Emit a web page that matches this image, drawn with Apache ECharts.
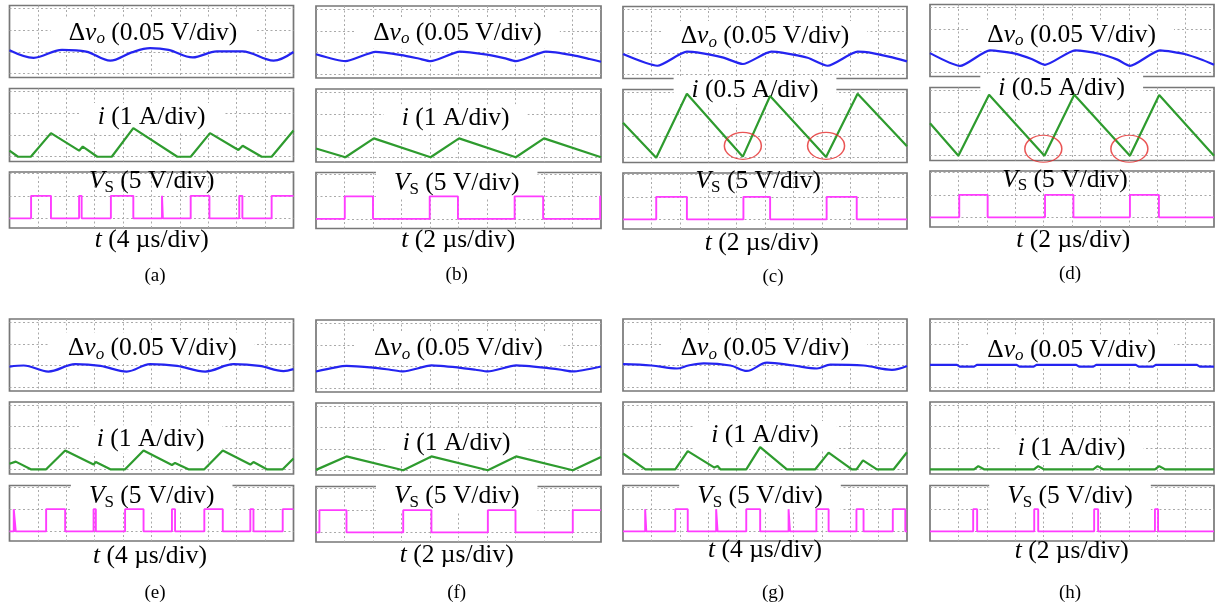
<!DOCTYPE html>
<html><head><meta charset="utf-8">
<script src="https://cdn.jsdelivr.net/npm/echarts@6/dist/echarts.min.js"></script>
<style>html,body{margin:0;padding:0;background:#fff}#c{width:1222px;height:610px}</style>
</head><body><div id="c"></div>
<script>
// ===== DATA (time in divisions 0-10, amplitude in divisions) =====
const panelTags = ['(a)','(b)','(c)','(d)','(e)','(f)','(g)','(h)'];
const voScale = '0.05 V/div';
const vsScale = '5 V/div';
const iScales = ['1 A/div','1 A/div','0.5 A/div','0.5 A/div','1 A/div','1 A/div','1 A/div','1 A/div'];
const tScales = ['4 µs/div','2 µs/div','2 µs/div','2 µs/div','4 µs/div','2 µs/div','4 µs/div','2 µs/div'];

// output-voltage ripple Δvo (blue)
const voT_a = [0, 0.85, 1.85, 2.7, 3.55, 4.3, 4.95, 5.6, 6.45, 7.3, 8.2, 9.3, 10];
const vo_a  = [1.08, 0.73, 1.1, 1.02, 0.6, 0.98, 1.18, 1.1, 0.75, 1.03, 1.03, 0.6, 1.0];
const voT_b = [0, 1.03, 2.09, 3.0, 3.6, 4.02, 5.05, 6.0, 6.6, 7.01, 8.07, 9.0, 9.6, 10];
const vo_b  = [0.92, 0.6, 1.03, 0.88, 0.72, 0.6, 1.04, 0.9, 0.74, 0.6, 1.04, 0.88, 0.7, 0.57];
const voT_c = [0, 1.21, 2.25, 2.6, 3.5, 4.22, 5.22, 5.6, 6.5, 7.21, 8.26, 8.65, 9.4, 10];
const vo_c  = [0.95, 0.41, 1.06, 1.03, 0.8, 0.49, 1.06, 1.02, 0.78, 0.41, 1.06, 1.03, 0.82, 0.61];
const voT_d = [0, 1.06, 2.11, 3.0, 3.6, 4.05, 5.11, 6.0, 6.6, 7.04, 8.1, 9.0, 9.6, 10];
const vo_d  = [0.9, 0.31, 1.03, 0.88, 0.62, 0.36, 1.03, 0.86, 0.6, 0.31, 1.03, 0.85, 0.58, 0.36];
const voT_e = [0, 0.5, 1.37, 2.31, 3.2, 4.13, 4.95, 5.9, 6.89, 7.89, 8.8, 9.65, 10];
const vo_e  = [0.95, 1.0, 0.72, 1.06, 0.98, 0.72, 1.06, 0.98, 0.72, 1.06, 0.98, 0.74, 0.83];
const voT_f = [0, 1.07, 2.0, 2.6, 3.06, 4.05, 5.0, 5.6, 6.03, 7.02, 8.0, 8.6, 9.01, 10];
const vo_f  = [0.77, 1.03, 0.95, 0.85, 0.77, 1.05, 0.95, 0.85, 0.77, 1.05, 0.95, 0.85, 0.77, 1.0];
const voT_g = [0, 1.0, 1.9, 2.3, 2.84, 3.78, 4.36, 5.07, 6.0, 6.83, 7.3, 8.47, 9.47, 10];
const vo_g  = [1.06, 1.0, 0.86, 1.0, 1.1, 1.0, 0.75, 1.13, 1.0, 0.86, 1.04, 1.0, 0.8, 0.98];
const voT_h = [0, 0.95, 1.05, 1.55, 1.65, 3.05, 3.15, 3.65, 3.75, 5.15, 5.25, 5.75, 5.85, 7.25, 7.35, 7.85, 7.95, 9.4, 9.5, 10];
const vo_h  = [1.03, 1.03, 0.95, 0.95, 1.03, 1.03, 0.95, 0.95, 1.03, 1.03, 0.95, 0.95, 1.03, 1.03, 0.95, 0.95, 1.03, 1.03, 0.95, 0.95];

// inductor current i (green)
const iT_a = [0, 0.3, 0.75, 1.46, 2.45, 2.58, 3.09, 3.6, 4.36, 5.91, 6.38, 7.06, 8.06, 8.21, 8.88, 9.23, 10];
const i_a  = [0.28, 0, 0, 1.09, 0.28, 0.47, 0, 0, 1.32, 0, 0, 1.09, 0.31, 0.51, 0, 0, 1.21];
const iT_b = [0, 1.03, 2.03, 4.02, 5.02, 7.01, 8.0, 10];
const i_b  = [0.4, 0, 0.87, 0, 0.87, 0, 0.87, 0];
const iT_c = [0, 1.17, 2.25, 4.22, 5.18, 7.15, 8.26, 10];
const i_c  = [1.62, 0, 2.95, 0.05, 2.85, 0.03, 2.95, 0.53];
const iT_d = [0, 1.0, 2.08, 4.03, 5.08, 7.04, 8.07, 10];
const i_d  = [1.5, 0, 2.82, 0, 2.82, 0, 2.8, 0];
const iT_e = [0, 0.22, 0.75, 1.29, 1.96, 2.96, 3.04, 3.55, 4.07, 4.72, 5.72, 5.83, 6.3, 6.86, 7.51, 8.48, 8.59, 9.06, 9.62, 10];
const i_e  = [0.26, 0.36, 0, 0, 0.88, 0.22, 0.34, 0, 0, 0.88, 0.2, 0.3, 0, 0, 0.88, 0.22, 0.34, 0, 0, 0.51];
const iT_f = [0, 1.07, 3.06, 4.05, 6.03, 7.02, 9.01, 10];
const i_f  = [0.02, 0.65, 0, 0.65, 0, 0.65, 0, 0.62];
const iT_g = [0, 0.79, 1.84, 2.28, 3.22, 3.33, 3.43, 4.34, 4.83, 5.77, 6.77, 7.24, 8.06, 8.22, 8.45, 8.94, 9.53, 10];
const i_g  = [0.74, 0, 0, 0.85, 0.08, 0.15, 0, 0, 1.04, 0, 0, 0.78, 0, 0, 0.42, 0, 0, 0.8];
const iT_h = [0, 1.55, 1.7, 1.9, 3.66, 3.81, 4.01, 5.75, 5.9, 6.1, 7.92, 8.07, 8.27, 10];
const i_h  = [0, 0, 0.15, 0, 0, 0.15, 0, 0, 0.15, 0, 0, 0.15, 0, 0];

// switch voltage VS (magenta), level changes
const vsT_a = [0, 0.76, 1.46, 2.45, 2.54, 3.57, 4.36, 5.37, 5.4, 6.38, 7.04, 8.09, 8.2, 9.23, 10];
const vs_a  = [0, 1, 0, 1, 0, 1, 0, 1, 0, 1, 0, 1, 0, 1, 1];
const vsT_b = [0, 1.01, 2.0, 3.99, 4.98, 6.97, 7.97, 9.97, 10];
const vs_b  = [0, 1, 0, 1, 0, 1, 0, 1, 1];
const vsT_c = [0, 1.17, 2.25, 4.24, 5.18, 7.17, 8.23, 10];
const vs_c  = [0, 1, 0, 1, 0, 1, 0, 0];
const vsT_d = [0, 1.03, 2.03, 4.05, 5.05, 7.04, 8.06, 10];
const vs_d  = [0, 1, 0, 1, 0, 1, 0, 0];
const vsT_e = [0, 0.15, 0.22, 1.29, 1.96, 2.96, 3.04, 4.07, 4.72, 5.72, 5.83, 6.86, 7.51, 8.48, 8.59, 9.62, 10];
const vs_e  = [0, 1, 0, 1, 0, 1, 0, 1, 0, 1, 0, 1, 0, 1, 0, 1, 1];
const vsT_f = [0, 0.12, 1.07, 3.06, 4.05, 6.03, 7.0, 9.01, 10];
const vs_f  = [0, 1, 0, 1, 0, 1, 0, 1, 1];
const vsT_g = [0, 0.78, 0.82, 1.84, 2.28, 3.28, 3.33, 4.34, 4.83, 5.83, 5.88, 6.81, 7.24, 8.22, 8.47, 9.5, 9.94, 10];
const vs_g  = [0, 1, 0, 1, 0, 1, 0, 1, 0, 1, 0, 1, 0, 1, 0, 1, 0, 0];
const vsT_h = [0, 1.52, 1.66, 3.67, 3.81, 5.78, 5.92, 7.92, 8.03, 10];
const vs_h  = [0, 1, 0, 1, 0, 1, 0, 1, 0, 0];

// highlighted current valleys (red ellipses) in (c) and (d)
const markT_c = [4.22, 7.15]; const mark_c = [0.55, 0.55];
const markT_d = [3.99, 7.02]; const mark_d = [0.32, 0.32];

// ===== LAYOUT =====
const colLeft = [9.5, 316, 623, 930];
const colWidth = [284, 285, 284, 284];
const rowTop = [[5.5, 88.5, 172], [319, 402, 485.5]];
const rowH = [[72, 73, 56], [72, 72, 55.5]];
const colDy = [[0, 0.5, 1, -1], [0, 1, 0, 0]];
const yRange = [[-0.18, 3.15, 3], [-0.22, 3.15, 3], [-0.43, 2.06, 2]];

const voLabelPos = [[153,33],[457.5,33],[765,36.5],[1071.7,35],[152.3,348.3],[458.3,348.3],[765,348.3],[1071.7,350]];
const iLabelPos  = [[151.7,117],[455.7,118.3],[755,90],[1061.7,88.3],[150.7,439.3],[456.7,443.3],[765,435],[1071.7,448.3]];
const vsLabelPos = [[151.7,181.7],[456.7,183.3],[758.3,181.7],[1065,180],[151.7,496.7],[456.7,496.7],[760,496.7],[1070,496.7]];
const vsLabelBg  = [false,true,false,false,true,true,true,true];
const tLabelPos  = [[151.7,240],[458.3,240],[761.7,243],[1073.3,240],[150,556.7],[456.7,555],[765,550],[1071.7,551.7]];
const tagPos     = [[155,276],[456.7,275],[773,277],[1070,274],[155,593],[456.7,593],[773,593],[1070,593]];

const COLORS = {vo: '#2424f0', i: '#2e9b2e', vs: '#ff3cff', mark: '#e52a2a', frame: '#777777', grid: '#a9a9a9'};
const F = 'Liberation Serif, Times New Roman, serif';
const FS = 25.5;

const voSets = [[voT_a,vo_a],[voT_b,vo_b],[voT_c,vo_c],[voT_d,vo_d],[voT_e,vo_e],[voT_f,vo_f],[voT_g,vo_g],[voT_h,vo_h]];
const iSets  = [[iT_a,i_a],[iT_b,i_b],[iT_c,i_c],[iT_d,i_d],[iT_e,i_e],[iT_f,i_f],[iT_g,i_g],[iT_h,i_h]];
const vsSets = [[vsT_a,vs_a],[vsT_b,vs_b],[vsT_c,vs_c],[vsT_d,vs_d],[vsT_e,vs_e],[vsT_f,vs_f],[vsT_g,vs_g],[vsT_h,vs_h]];
const markSets = {2: [markT_c, mark_c], 3: [markT_d, mark_d]};
const voSmooth = [0.35, 0.2, 0.2, 0.2, 0.35, 0.2, 0.35, 0];

function zip(t, v) { return t.map((x, k) => [x, v[k]]); }

const grids = [], xAxes = [], yAxes = [], series = [], graphics = [];
const dash = {type: [2, 2.5], color: COLORS.grid, width: 1};

for (let p = 0; p < 8; p++) {
  const row = p < 4 ? 0 : 1, col = p % 4;
  for (let k = 0; k < 3; k++) {
    const gi = grids.length;
    grids.push({left: colLeft[col], top: rowTop[row][k] + colDy[row][col], width: colWidth[col], height: rowH[row][k],
      show: true, borderColor: COLORS.frame, borderWidth: 1.7, backgroundColor: 'transparent', containLabel: false});
    xAxes.push({type: 'value', gridIndex: gi, min: 0, max: 10, interval: 1,
      axisLine: {show: false}, axisTick: {show: false}, axisLabel: {show: false},
      splitLine: {show: true, showMinLine: false, showMaxLine: false, lineStyle: dash}});
    yAxes.push({type: 'value', gridIndex: gi, min: yRange[k][0], max: yRange[k][1], splitNumber: yRange[k][2],
      axisLine: {show: false}, axisTick: {show: false}, axisLabel: {show: false},
      splitLine: {show: true, showMinLine: false, showMaxLine: false, lineStyle: dash}});
    let set, color, extra = {}, width = 2.2;
    if (k === 0) { set = voSets[p]; color = COLORS.vo; extra = {smooth: voSmooth[p]}; }
    else if (k === 1) { set = iSets[p]; color = COLORS.i; }
    else { set = vsSets[p]; color = COLORS.vs; extra = {step: 'end'}; width = 1.9; }
    series.push(Object.assign({type: 'line', xAxisIndex: gi, yAxisIndex: gi, data: zip(set[0], set[1]),
      symbol: 'none', lineStyle: {color, width}, z: 3, silent: true}, extra));
    if (k === 1 && markSets[p]) {
      series.push({type: 'scatter', xAxisIndex: gi, yAxisIndex: gi, data: zip(markSets[p][0], markSets[p][1]),
        symbol: 'circle', symbolSize: [37, 27], z: 4, silent: true,
        itemStyle: {color: 'rgba(0,0,0,0)', borderColor: COLORS.mark, borderWidth: 1.3}});
    }
  }
}

const base = {fontFamily: F, fontSize: FS, fill: '#000'};
const rich = {
  n: Object.assign({}, base),
  it: Object.assign({}, base, {fontStyle: 'italic'}),
  sub: Object.assign({}, base, {fontSize: 17, fontStyle: 'italic', padding: [12, 0, 0, 0]}),
  subr: Object.assign({}, base, {fontSize: 17, padding: [12, 0, 0, 0]})
};
function label(pos, text, bg) {
  return {type: 'text', x: pos[0], y: pos[1], z: 1, silent: true,
    style: Object.assign({}, base, {text, rich, align: 'center', verticalAlign: 'middle',
      backgroundColor: bg ? '#ffffff' : null, padding: bg ? [1, 18] : 0})};
}
for (let p = 0; p < 8; p++) {
  graphics.push(label(voLabelPos[p], '{n|Δ}{it|v}{sub|o}{n| (' + voScale + ')}', true));
  graphics.push(label(iLabelPos[p], '{it|i}{n| (' + iScales[p] + ')}', true));
  graphics.push(label(vsLabelPos[p], '{it|V}{subr|S}{n| (' + vsScale + ')}', vsLabelBg[p]));
  graphics.push(label(tLabelPos[p], '{it|t}{n| (' + tScales[p] + ')}', false));
  graphics.push({type: 'text', x: tagPos[p][0], y: tagPos[p][1], z: 1, silent: true,
    style: {text: panelTags[p], fontFamily: F, fontSize: 19, fill: '#000', align: 'center', verticalAlign: 'middle'}});
}

const chart = echarts.init(document.getElementById('c'), null, {renderer: 'canvas'});
chart.setOption({animation: false, backgroundColor: '#fff', grid: grids, xAxis: xAxes, yAxis: yAxes, series, graphic: graphics});
</script></body></html>
